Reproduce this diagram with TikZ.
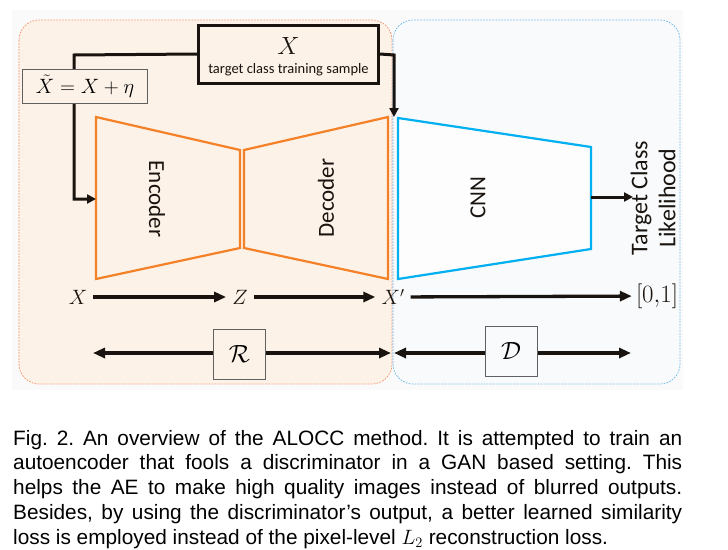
\documentclass[tikz,border=0pt]{standalone}
\usepackage{fontspec}
\newfontfamily\calibri{Carlito}
\newfontfamily\helv{Liberation Sans}
\usetikzlibrary{arrows.meta}
\definecolor{aeorange}{RGB}{244,128,40}
\definecolor{cnnblue}{RGB}{0,176,240}
\definecolor{orbg}{RGB}{253,242,231}
\definecolor{blbg}{RGB}{249,250,251}
\definecolor{orbd}{RGB}{245,150,110}
\definecolor{blbd}{RGB}{110,185,235}
\definecolor{pagebg}{RGB}{250,250,250}
\definecolor{ink}{RGB}{25,20,15}
\frenchspacing
\begin{document}
\begin{tikzpicture}[x=1pt,y=-1pt,
  region/.style={rounded corners=20pt, dash pattern=on 1.8pt off 1.2pt, line width=0.7pt},
  block/.style={line width=2.2pt, line join=miter},
  flow/.style={draw=ink, line width=3.3pt, -{Triangle[length=12pt,width=10pt]}},
  feed/.style={draw=ink, line width=3pt, -{Triangle[length=9pt,width=9pt]}},
  both/.style={draw=ink, line width=3.3pt, {Triangle[length=12pt,width=10pt]}-{Triangle[length=12pt,width=10pt]}},
  lab/.style={font=\calibri\fontsize{23}{28}\selectfont, text=ink, inner sep=0pt},
  mathlab/.style={font=\fontsize{21}{24}\selectfont, text=ink, inner sep=6pt},
  symbox/.style={draw=gray!75!black, line width=0.8pt, fill=orbg, minimum width=52pt, minimum height=50pt, inner sep=0pt, font=\fontsize{38}{40}\selectfont}
]
\useasboundingbox (0,0) rectangle (728,549);
% page background
\fill[pagebg] (12,10) rectangle (683,390);
% regions
\draw[region, draw=orbd, fill=orbg] (19,20) rectangle (392,384);
\draw[region, draw=blbd, fill=blbg] (393,20) rectangle (680,384);
% encoder / decoder / cnn
\draw[block, aeorange] (96,117) -- (240,150) -- (240,248) -- (96,279) -- cycle;
\draw[block, aeorange] (244,150) -- (388,117) -- (388,279) -- (244,248) -- cycle;
\draw[block, cnnblue, fill=white!60!blbg] (398,118) -- (591,147) -- (591,249) -- (398,279) -- cycle;
\node[lab, rotate=-90] (enc) at (157,199) {Encoder};
\node[lab, rotate=90] (dec) at (326,198) {Decoder};
\node[lab, rotate=90] (cnn) at (478,198) {CNN};
% coordinates
\coordinate (encin) at (96,199);
\coordinate (cnnin) at (394,117);
\coordinate (bendA) at (74,55);
\coordinate (bendB) at (74,199);
\coordinate (bendC) at (394,55);
\coordinate (cnnout) at (591,197);
\coordinate (tclin) at (633,197);
% top box
\node[draw=ink, line width=3pt, fill=orbg, minimum width=180pt, minimum height=58pt] (xbox) at (288.5,54) {};
\node[font=\fontsize{23}{24}\selectfont, text=ink] (xsym) at (288.5,46) {$X$};
\node[font=\calibri\fontsize{14.5}{16}\selectfont, text=ink] (xtxt) at (288.5,70) {target class training sample};
% feed lines
\draw[feed] (xbox.west) -- (bendA) -- (bendB) -- (encin);
\draw[feed] (xbox.east) -- (bendC) -- (cnnin);
% noise box
\node[draw=gray!75!black, line width=0.8pt, fill=orbg, minimum width=125pt, minimum height=34pt, inner sep=0pt, font=\fontsize{22}{24}\selectfont] (noise) at (85,86.5) {$\tilde{X} = X + \eta$};
% output label
\node[lab, font=\calibri\fontsize{24}{28}\selectfont, rotate=90, align=center] (tcl) at (653,198) {Target Class\\Likelihood};
\draw[feed] (cnnout) -- (tclin);
% row of symbols
\node[mathlab] (x0) at (78,297) {$X$};
\node[mathlab] (z) at (240,297) {$Z$};
\node[mathlab] (x1) at (393,297) {$X'$};
\node[mathlab, font=\fontsize{23}{26}\selectfont, inner sep=4pt] (out) at (657,296) {$[0{,}1]$};
\draw[flow] (x0) -- (z);
\draw[flow] (z) -- (x1);
\draw[flow] (x1) -- (out);
% R and D
\coordinate (rL) at (93,353);
\coordinate (rR) at (391,353);
\coordinate (dL) at (394,353);
\coordinate (dR) at (631,353);
\draw[both] (rL) -- (rR);
\draw[both] (dL) -- (dR);
\node[symbox] (R) at (239.5,354) {$\mathcal{R}$};
\node[symbox, fill=blbg] (D) at (511,351) {$\mathcal{D}$};
% caption
\node[anchor=north west, inner sep=0pt, font=\helv\fontsize{20.8}{24.7}\selectfont, align=left, text=black] (cap) at (13,430) {%
\makebox[669pt][s]{Fig. 2. An overview of the ALOCC method. It is attempted to train an}\\
\makebox[669pt][s]{autoencoder that fools a discriminator in a GAN based setting. This}\\
\makebox[669pt][s]{helps the AE to make high quality images instead of blurred outputs.}\\
\makebox[669pt][s]{Besides, by using the discriminator’s output, a better learned similarity}\\
loss is employed instead of the pixel-level $L_2$ reconstruction loss.};
\end{tikzpicture}
\end{document}
